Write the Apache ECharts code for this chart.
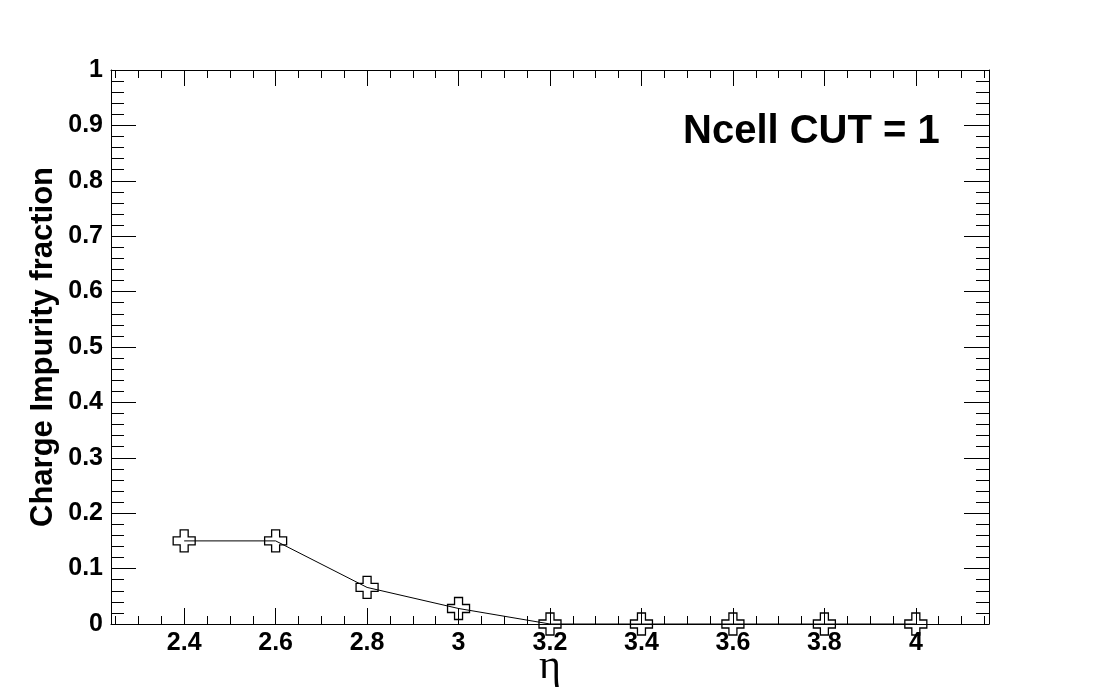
<!DOCTYPE html>
<html>
<head>
<meta charset="utf-8">
<script src="https://cdn.jsdelivr.net/npm/echarts@6/dist/echarts.min.js"></script>
<style>
html,body{margin:0;padding:0;background:#fff;overflow:hidden;}
#c{width:1101px;height:694px;}
</style>
</head>
<body>
<div id="c"></div>
<script>
// ---- data ----
var etaValues = [2.4, 2.6, 2.8, 3.0, 3.2, 3.4, 3.6, 3.8, 4.0];
var impurity  = [0.15, 0.15, 0.066, 0.028, 0.0, 0.0, 0.0, 0.0, 0.0];
var xMajorTicks = [2.4, 2.6, 2.8, 3.0, 3.2, 3.4, 3.6, 3.8, 4.0];
var xMinorTicks = [2.25, 2.30, 2.35, 2.45, 2.50, 2.55, 2.65, 2.70, 2.75, 2.85, 2.90, 2.95,
                   3.05, 3.10, 3.15, 3.25, 3.30, 3.35, 3.45, 3.50, 3.55, 3.65, 3.70, 3.75,
                   3.85, 3.90, 3.95, 4.05, 4.10, 4.15];
var xRange = [2.24, 4.16];
var yRange = [0, 1];
var xTitle = 'η';
var yTitle = 'Charge Impurity fraction';
var annotation = 'Ncell CUT = 1';

var chart = echarts.init(document.getElementById('c'), null, {renderer: 'canvas'});
var black = '#000';
var labelFont = {fontFamily: 'Liberation Sans', fontWeight: 'bold', fontSize: 25, color: black};

function xAxisDef(pos, ticks, len, showLabel, showLine, extra) {
  var a = {
    type: 'value', position: pos, min: xRange[0], max: xRange[1],
    axisLine: {show: showLine, onZero: false, lineStyle: {color: black, width: 1}},
    axisTick: {show: true, inside: true, length: len, customValues: ticks, lineStyle: {color: black, width: 1}},
    axisLabel: showLabel ? Object.assign({show: true, margin: 7, customValues: ticks,
                 formatter: function (v) { return String(+v.toFixed(2)); }}, labelFont) : {show: false},
    splitLine: {show: false}
  };
  return Object.assign(a, extra || {});
}

var option = {
  backgroundColor: '#fff',
  animation: false,
  grid: {left: 111, right: 112, top: 70, bottom: 70, containLabel: false, outerBoundsMode: 'none'},
  xAxis: [
    xAxisDef('bottom', xMajorTicks, 16, true, true, {
      name: xTitle, nameLocation: 'middle', nameGap: 22, nameMoveOverlap: false,
      nameTextStyle: {fontFamily: 'Liberation Serif', fontSize: 42, color: black}
    }),
    xAxisDef('bottom', xMinorTicks, 8, false, false),
    xAxisDef('top', xMajorTicks, 16, false, true),
    xAxisDef('top', xMinorTicks, 8, false, false)
  ],
  yAxis: [
    {
      type: 'value', position: 'left', min: yRange[0], max: yRange[1], interval: 0.1,
      axisLine: {show: true, onZero: false, lineStyle: {color: black, width: 1}},
      axisTick: {show: true, inside: true, length: 25, lineStyle: {color: black, width: 1}},
      minorTick: {show: true, splitNumber: 5, length: 13, lineStyle: {color: black, width: 1}},
      axisLabel: Object.assign({margin: 8, formatter: function (v) { return String(+v.toFixed(1)); }}, labelFont),
      splitLine: {show: false},
      name: yTitle, nameLocation: 'middle', nameGap: 52, nameRotate: 90, nameMoveOverlap: false,
      nameTextStyle: {fontFamily: 'Liberation Sans', fontWeight: 'bold', fontSize: 31, color: black}
    },
    {
      type: 'value', position: 'right', min: yRange[0], max: yRange[1], interval: 0.1,
      axisLine: {show: true, onZero: false, lineStyle: {color: black, width: 1}},
      axisTick: {show: true, inside: true, length: 25, lineStyle: {color: black, width: 1}},
      minorTick: {show: true, splitNumber: 5, length: 13, lineStyle: {color: black, width: 1}},
      axisLabel: {show: false},
      splitLine: {show: false}
    }
  ],
  series: [{
    type: 'line',
    xAxisIndex: 0, yAxisIndex: 0,
    data: etaValues.map(function (x, i) { return [x, impurity[i]]; }),
    lineStyle: {color: black, width: 1},
    symbol: 'path://M7,0H15V7H22V15H15V22H7V15H0V7H7Z',
    symbolSize: 22,
    itemStyle: {color: 'rgba(0,0,0,0)', borderColor: black, borderWidth: 1.3},
    emphasis: {disabled: true},
    clip: false,
    z: 5
  }],
  graphic: [{
    type: 'text', left: 683, top: 112,
    style: {text: annotation, fontFamily: 'Liberation Sans', fontWeight: 'bold', fontSize: 40, fill: black}
  }]
};
chart.setOption(option);
</script>
</body>
</html>
